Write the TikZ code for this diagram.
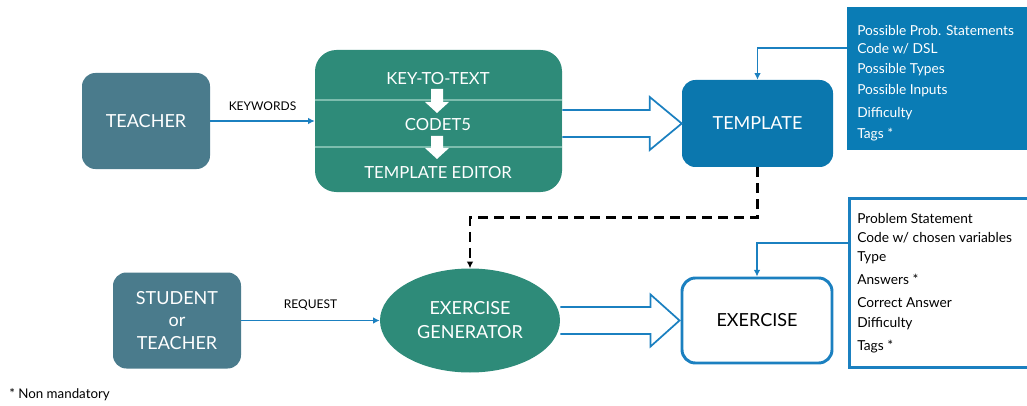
\documentclass[tikz,border=0pt]{standalone}
\usepackage{fontspec}
\setmainfont{Lato}
\usetikzlibrary{calc,arrows.meta,shapes.geometric}
\definecolor{slate}{HTML}{4A7B8C}
\definecolor{tgreen}{HTML}{2E8B79}
\definecolor{tblue}{HTML}{0B77AE}
\definecolor{iblue}{HTML}{0A7CB5}
\definecolor{lblue}{HTML}{1B80C0}
\definecolor{lgreen}{HTML}{7DBDAE}
\tikzset{
  px/.style={x=0.75pt,y=-0.75pt},
  slatebox/.style={rectangle,rounded corners=10pt,fill=slate,text=white,font=\fontsize{13.5}{16}\selectfont,align=center,inner sep=0pt},
  greenbox/.style={rectangle,rounded corners=16pt,fill=tgreen,inner sep=0pt},
  bluebox/.style={rectangle,rounded corners=10pt,fill=tblue,text=white,font=\fontsize{13.5}{16}\selectfont,inner sep=0pt},
  whitebox/.style={rectangle,rounded corners=10pt,draw=lblue,line width=2.2pt,fill=white,text=black,font=\fontsize{13.5}{16}\selectfont,inner sep=0pt},
  gtext/.style={text=white,font=\fontsize{12.5}{15}\selectfont},
  itext/.style={anchor=west,inner sep=0pt,font=\fontsize{10.3}{12}\selectfont},
  lab/.style={font=\fontsize{9}{11}\selectfont},
  arr/.style={draw=lblue,line width=1.3pt,-{Latex[length=5pt,width=5pt]}},
  hollow/.style={draw=lblue,line width=1.3pt,fill=white,line join=miter},
  dasharr/.style={draw=black,line width=2pt,dash pattern=on 7.5pt off 4.5pt,-{Latex[length=5pt,width=5pt]}},
}
\begin{document}
\begin{tikzpicture}[px]
\useasboundingbox (0,0) rectangle (1027,406);
% nodes
\node[slatebox,minimum width=128*0.75pt,minimum height=96*0.75pt] (teacher) at (146,121) {TEACHER};
\node[greenbox,minimum width=247*0.75pt,minimum height=142*0.75pt] (gen) at (438.5,121) {};
\node[bluebox,minimum width=151*0.75pt,minimum height=87*0.75pt] (template) at (757.5,123.5) {TEMPLATE};
\node[rectangle,fill=iblue,minimum width=184*0.75pt,minimum height=143*0.75pt,inner sep=0pt,anchor=north west] (tinfo) at (847,7) {};
\node[slatebox,minimum width=128*0.75pt,minimum height=96*0.75pt] (student) at (177,320.5) {STUDENT\\[1pt]or\\[1pt]TEACHER};
\node[ellipse,fill=tgreen,minimum width=180*0.75pt,minimum height=104*0.75pt,inner sep=0pt,text=white,font=\fontsize{13.5}{16}\selectfont,align=center] (egen) at (470,320.5) {EXERCISE\\[2pt]GENERATOR};
\node[whitebox,minimum width=150*0.75pt,minimum height=85*0.75pt] (exercise) at (757,320.5) {EXERCISE};
\node[rectangle,draw=lblue,line width=2pt,fill=white,minimum width=184*0.75pt,minimum height=169*0.75pt,inner sep=0pt,anchor=north west] (einfo) at (848,197) {};
% green box internals
\draw[lgreen,line width=1pt] (gen.west |- 0,100) -- (gen.east |- 0,100);
\draw[lgreen,line width=1pt] (gen.west |- 0,147) -- (gen.east |- 0,147);
\node[gtext] (k2t) at (438,79) {KEY-TO-TEXT};
\node[gtext] (codet5) at (438,125) {CODET5};
\node[gtext] (tedit) at (438,173) {TEMPLATE EDITOR};
\fill[white] (431,89) -- (443,89) -- (443,102) -- (449,102) -- (437,113) -- (425,102) -- (431,102) -- cycle;
\fill[white] (431,136) -- (443,136) -- (443,148) -- (449,148) -- (437,159) -- (425,148) -- (431,148) -- cycle;
% info texts
\node[itext,text=white] (t1) at (857,30) {Possible Prob. Statements};
\node[itext,text=white] (t2) at (857,49) {Code w/ DSL};
\node[itext,text=white] (t3) at (857,70) {Possible Types};
\node[itext,text=white] (t4) at (857,91) {Possible Inputs};
\node[itext,text=white] (t5) at (857,114) {Difficulty};
\node[itext,text=white] (t6) at (857,135) {Tags *};
\node[itext] (e1) at (857,218) {Problem Statement};
\node[itext] (e2) at (857,238) {Code w/ chosen variables};
\node[itext] (e3) at (857,258) {Type};
\node[itext] (e4) at (857,279) {Answers *};
\node[itext] (e5) at (857,303) {Correct Answer};
\node[itext] (e6) at (857,324) {Difficulty};
\node[itext] (e7) at (857,347) {Tags *};
\node[anchor=west,inner sep=0pt,font=\fontsize{10}{12}\selectfont] (note) at (9,395) {* Non mandatory};
% connectors
\draw[arr] (teacher.east) -- node[lab,above=4pt,text=black] {KEYWORDS} (gen.west);
\draw[arr] (student.east) -- node[lab,above=4pt,text=black] {REQUEST} (egen.west);
\draw[hollow] ($(gen.east|-template.west)+(0,-13.5)$) -- ($(template.west)+(-32,-13.5)$) -- ($(template.west)+(-32,-26.5)$) -- (template.west) -- ($(template.west)+(-32,26.5)$) -- ($(template.west)+(-32,13.5)$) -- ($(gen.east|-template.west)+(0,13.5)$);
\draw[hollow] ($(egen.east)+(0,-13.5)$) -- ($(exercise.west)+(-30,-13.5)$) -- ($(exercise.west)+(-30,-26)$) -- ($(exercise.west)+(-1,0)$) -- ($(exercise.west)+(-30,26)$) -- ($(exercise.west)+(-30,13.5)$) -- ($(egen.east)+(0,13.5)$);
\draw[arr] ($(tinfo.north west)+(0,41)$) -| (template.north);
\draw[arr] ($(einfo.north west)+(0,46)$) -| (exercise.north);
\draw[dasharr] (template.south) -- ++(0,50) -| (egen.north);
\end{tikzpicture}
\end{document}
